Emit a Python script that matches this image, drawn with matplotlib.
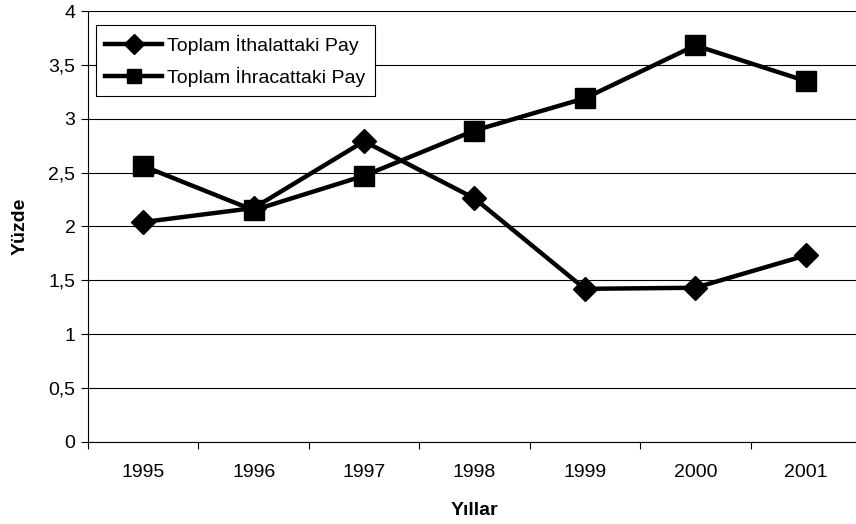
import matplotlib.pyplot as plt
from matplotlib.ticker import FuncFormatter, FixedLocator

plt.rcParams['font.family'] = ['Liberation Sans', 'DejaVu Sans']

years = ['1995', '1996', '1997', '1998', '1999', '2000', '2001']
ithalat = [2.04, 2.17, 2.79, 2.26, 1.42, 1.43, 1.73]
ihracat = [2.56, 2.15, 2.47, 2.89, 3.19, 3.68, 3.35]

fig = plt.figure(figsize=(8.56, 5.24), dpi=100)
ax = fig.add_axes([0.1028, 0.157, 0.903, 0.822])

x = range(len(years))
ax.plot(x, ithalat, color='black', linewidth=3.2, marker='D', markersize=12,
        label='Toplam İthalattaki Pay', zorder=3)
ax.plot(x, ihracat, color='black', linewidth=3.2, marker='s', markersize=15,
        label='Toplam İhracattaki Pay', zorder=3)

ax.set_xlim(-0.5, 6.5)
ax.set_ylim(0, 4)
ax.set_yticks([i * 0.5 for i in range(9)])
ax.yaxis.set_major_formatter(FuncFormatter(lambda v, p: ('%g' % v).replace('.', ',')))
ax.yaxis.grid(True, color='black', linewidth=0.8)
ax.set_axisbelow(True)

ax.set_xticks(list(x))
ax.set_xticklabels(years)
ax.tick_params(axis='x', which='major', length=0, labelsize=14, pad=16)
ax.xaxis.set_minor_locator(FixedLocator([i - 0.5 for i in range(8)]))
ax.tick_params(axis='x', which='minor', length=5, width=0.8, direction='out')
ax.tick_params(axis='y', length=5, width=0.8, labelsize=14, pad=4)

for s in ['top', 'right']:
    ax.spines[s].set_visible(False)
ax.spines['left'].set_linewidth(0.8)
ax.spines['bottom'].set_linewidth(0.8)

ax.set_xlabel('Yıllar', fontsize=14, fontweight='bold', labelpad=15)
ax.set_ylabel('Yüzde', fontsize=14, fontweight='bold', labelpad=14)

leg = ax.legend(loc='upper left', bbox_to_anchor=(0.010, 0.967), fontsize=14,
                frameon=True, fancybox=False, edgecolor='black', framealpha=1,
                handlelength=2.9, borderpad=0.5, labelspacing=0.6, handletextpad=0.25,
                borderaxespad=0)
leg.get_frame().set_linewidth(0.8)
for h in leg.legend_handles:
    h.set_markersize(10)

fig.savefig('out.png', dpi=100)
